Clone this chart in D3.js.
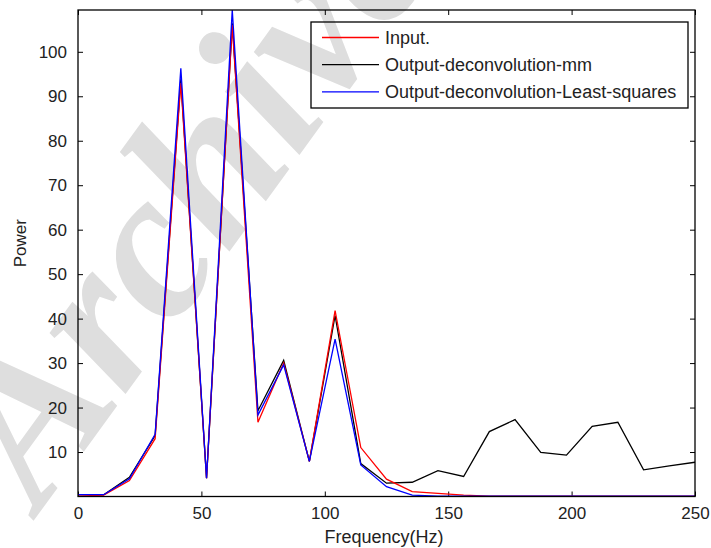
<!DOCTYPE html>
<html>
<head>
<meta charset="utf-8">
<script src="https://cdn.jsdelivr.net/npm/d3@7"></script>
<style>
  body { margin: 0; background: #fff; }
  text { font-family: Arial, "Liberation Sans", sans-serif; fill: #222; }
</style>
</head>
<body>
<div id="chart"></div>
<script>
// frequency bins (Hz), 250/24 spacing
const freqs = d3.range(25).map(k => k * 250 / 24);

// power values
const inputPower = [0.1, 0.3, 3.6, 13.0, 93.0, 4.1, 106.0, 16.7, 30.0, 7.9, 41.8, 11.0, 3.9, 1.1, 0.7, 0.3, 0.1, 0.1, 0.1, 0.1, 0.1, 0.1, 0.1, 0.1, 0.1];
const mmPower = [0.4, 0.4, 4.3, 13.7, 93.8, 4.1, 106.4, 19.3, 30.6, 7.9, 40.7, 7.4, 3.0, 3.2, 5.8, 4.5, 14.6, 17.3, 9.9, 9.3, 15.8, 16.7, 6.0, 6.9, 7.7];
const lsPower = [0.4, 0.4, 4.0, 14.0, 96.3, 4.1, 109.4, 18.3, 29.6, 7.9, 35.4, 7.1, 2.2, 0.3, 0.1, 0.1, 0.1, 0.1, 0.1, 0.1, 0.1, 0.1, 0.1, 0.1, 0.1];

const seriesNames = ["Input.", "Output-deconvolution-mm", "Output-deconvolution-Least-squares"];
const seriesColors = ["#ff0000", "#000000", "#0000ff"];
const xTicks = [0, 50, 100, 150, 200, 250];
const yTicks = [10, 20, 30, 40, 50, 60, 70, 80, 90, 100];

const W = 711, H = 548;
const margin = { top: 10, right: 16, bottom: 51.5, left: 78 };
const width = W - margin.left - margin.right,
    height = H - margin.top - margin.bottom;

const svg = d3.select("#chart").append("svg")
    .attr("width", W)
    .attr("height", H);

// watermark behind the plot
svg.append("text")
    .attr("transform", "translate(40,512) rotate(-54)")
    .style("font-family", "'Liberation Serif', 'DejaVu Serif', serif")
    .style("font-style", "italic")
    .style("font-weight", "bold")
    .style("font-size", "212px")
    .style("fill", "#dedede")
    .text("Archive");

const g = svg.append("g")
    .attr("transform", `translate(${margin.left},${margin.top})`);

const x = d3.scaleLinear().domain([0, 250]).range([0, width]);
const y = d3.scaleLinear().domain([0, 109.4]).range([height, 0]);

// axes, ticks pointing inward like matlab
const tickLen = 5;
g.append("g")
    .attr("transform", `translate(0,${height})`)
    .call(d3.axisBottom(x).tickValues(xTicks).tickSizeInner(-tickLen).tickSizeOuter(0).tickPadding(10))
    .call(a => a.select(".domain").remove());
g.append("g")
    .call(d3.axisLeft(y).tickValues(yTicks).tickSizeInner(-tickLen).tickSizeOuter(0).tickPadding(11))
    .call(a => a.select(".domain").remove());
g.append("g")
    .call(d3.axisTop(x).tickValues(xTicks).tickSizeInner(-tickLen).tickSizeOuter(0).tickFormat(""))
    .call(a => a.select(".domain").remove());
g.append("g")
    .attr("transform", `translate(${width},0)`)
    .call(d3.axisRight(y).tickValues(yTicks).tickSizeInner(-tickLen).tickSizeOuter(0).tickFormat(""))
    .call(a => a.select(".domain").remove());

g.selectAll(".tick text")
    .style("font-size", "17px")
    .style("fill", "#222");
g.selectAll(".tick line").attr("stroke", "#000");

// series lines
const line = d3.line()
    .x((d, i) => x(freqs[i]))
    .y(d => y(d));

const allSeries = [inputPower, mmPower, lsPower];
// draw black first, then red, then blue on top
[1, 0, 2].forEach(s => {
    g.append("path")
        .datum(allSeries[s])
        .attr("fill", "none")
        .attr("stroke", seriesColors[s])
        .attr("stroke-width", 1.3)
        .attr("d", line);
});

// frame
g.append("rect")
    .attr("width", width)
    .attr("height", height)
    .attr("fill", "none")
    .attr("stroke", "#000")
    .attr("stroke-width", 1.3);

// axis labels
svg.append("text")
    .attr("x", 384)
    .attr("y", 543)
    .attr("text-anchor", "middle")
    .style("font-size", "18px")
    .text("Frequency(Hz)");
svg.append("text")
    .attr("transform", `translate(26,${margin.top + height / 2 - 10}) rotate(-90)`)
    .attr("text-anchor", "middle")
    .style("font-size", "17px")
    .text("Power");

// legend
const legend = svg.append("g").attr("transform", "translate(311,22)");
legend.append("rect")
    .attr("width", 377)
    .attr("height", 86)
    .attr("fill", "none")
    .attr("stroke", "#000")
    .attr("stroke-width", 1.3);
seriesNames.forEach((name, i) => {
    const ly = 15.5 + i * 27.2;
    legend.append("line")
        .attr("x1", 11).attr("x2", 68)
        .attr("y1", ly).attr("y2", ly)
        .attr("stroke", seriesColors[i])
        .attr("stroke-width", 1.3);
    legend.append("text")
        .attr("x", 74)
        .attr("y", ly)
        .attr("dy", "0.35em")
        .style("font-size", "18px")
        .text(name);
});
</script>
</body>
</html>
